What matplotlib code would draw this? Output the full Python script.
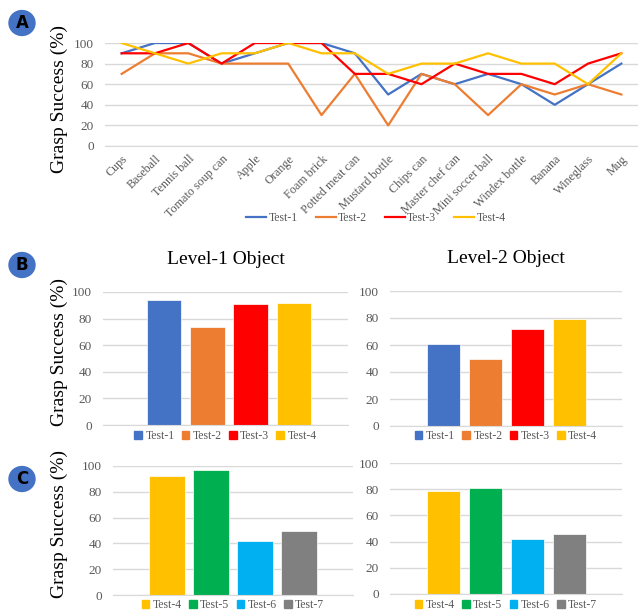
import matplotlib
matplotlib.use("Agg")
import matplotlib.pyplot as plt
from matplotlib.patches import Circle

plt.rcParams['font.family'] = ['Liberation Serif', 'DejaVu Serif']

objects = ['Cups', 'Baseball', 'Tennis ball', 'Tomato soup can', 'Apple', 'Orange',
           'Foam brick', 'Potted meat can', 'Mustard bottle', 'Chips can',
           'Master chef can', 'Mini soccer ball', 'Windex bottle', 'Banana',
           'Wineglass', 'Mug']
test1 = [90, 100, 100, 80, 90, 100, 100, 90, 50, 70, 60, 70, 60, 40, 60, 80]
test2 = [70, 90, 90, 80, 80, 80, 30, 70, 20, 70, 60, 30, 60, 50, 60, 50]
test3 = [90, 90, 100, 80, 100, 100, 100, 70, 70, 60, 80, 70, 70, 60, 80, 90]
test4 = [100, 90, 80, 90, 90, 100, 90, 90, 70, 80, 80, 90, 80, 80, 60, 90]

tests_b = ['Test-1', 'Test-2', 'Test-3', 'Test-4']
level1_b = [94, 74, 91, 92]
level2_b = [61, 50, 72, 79]

tests_c = ['Test-4', 'Test-5', 'Test-6', 'Test-7']
level1_c = [92, 97, 42, 50]
level2_c = [79, 81, 42, 46]

colors = {'Test-1': '#4472C4', 'Test-2': '#ED7D31', 'Test-3': '#FF0000',
          'Test-4': '#FFC000', 'Test-5': '#00B050', 'Test-6': '#00B0F0',
          'Test-7': '#808080'}

W, H = 638, 611
fig = plt.figure(figsize=(W / 100, H / 100), dpi=100)
GRID = '#D9D9D9'
TXT = '#595959'


def box(x0, y_top, x1, y_bot):
    return [x0 / W, 1 - y_bot / H, (x1 - x0) / W, (y_bot - y_top) / H]


def style(ax):
    for s in ['top', 'right', 'left']:
        ax.spines[s].set_visible(False)
    ax.spines['bottom'].set_color(GRID)
    ax.set_ylim(0, 100)
    ax.set_yticks(range(0, 101, 20))
    ax.yaxis.grid(True, color=GRID, lw=1)
    ax.set_axisbelow(True)
    ax.tick_params(axis='y', length=0, pad=8, labelsize=9.5, labelcolor=TXT)
    ax.tick_params(axis='x', length=0)


# panel A
axA = fig.add_axes(box(105, 43, 638, 146))
style(axA)
for name, vals in zip(tests_b, [test1, test2, test3, test4]):
    axA.plot(range(len(objects)), vals, color=colors[name], lw=1.6, label=name)
axA.set_xlim(-0.5, len(objects) - 0.5)
axA.set_xticks(range(len(objects)))
axA.set_xticklabels(objects, rotation=45, ha='right', va='top',
                    rotation_mode='anchor', fontsize=8.7, color=TXT)
axA.tick_params(axis='x', pad=5)
fig.legend(*axA.get_legend_handles_labels(), loc='center', ncol=4,
           bbox_to_anchor=(376 / W, 1 - 218 / H), frameon=False,
           fontsize=8.5, labelcolor=TXT, handlelength=1.7, columnspacing=1.5,
           handletextpad=0.2, borderpad=0)
fig.text(59 / W, 1 - 99 / H, 'Grasp Success (%)', rotation=90,
         ha='center', va='center', fontsize=14)


def bar_panel(x0, y_top, x1, y_bot, names, vals, first, title=None,
              leg_y=None):
    ax = fig.add_axes(box(x0, y_top, x1, y_bot))
    style(ax)
    pos = list(range(len(names)))
    ax.bar(pos, vals, width=0.8, color=[colors[n] for n in names],
           edgecolor='white', lw=0.5)
    ax.set_xticks([])
    unit = first[1]
    ax.set_xlim((x0 - first[0]) / unit, (x1 - first[0]) / unit)
    if title:
        ax.set_title(title, fontsize=14, pad=20)
    handles = [plt.Rectangle((0, 0), 1, 1, color=colors[n]) for n in names]
    fig.legend(handles, names, loc='center', ncol=4,
               bbox_to_anchor=((x0 + x1) / 2 / W, 1 - leg_y / H),
               frameon=False, fontsize=8.5, labelcolor=TXT,
               handlelength=0.65, handleheight=0.65, columnspacing=0.6,
               handletextpad=0.3, borderpad=0)
    return ax


bar_panel(103, 292, 348, 425, tests_b, level1_b, (164, 43.3),
          'Level-1 Object', leg_y=436)
bar_panel(390, 291, 622, 426, tests_b, level2_b, (443.3, 42),
          'Level-2 Object', leg_y=436)
bar_panel(113, 466, 353, 595, tests_c, level1_c, (167, 44), leg_y=605)
bar_panel(390, 463, 622, 594, tests_c, level2_c, (443.3, 42), leg_y=605)

fig.text(59 / W, 1 - 352 / H, 'Grasp Success (%)', rotation=90,
         ha='center', va='center', fontsize=14)
fig.text(59 / W, 1 - 524 / H, 'Grasp Success (%)', rotation=90,
         ha='center', va='center', fontsize=14)

# panel letters
for letter, (cx, cy) in zip('ABC', [(22, 23), (22, 265), (22, 479)]):
    fig.patches.append(Circle((cx / W, 1 - cy / H), 13 / W,
                              transform=fig.transFigure, color='#4472C4'))
    fig.text(cx / W, 1 - cy / H, letter, ha='center', va='center',
             fontsize=12, fontweight='bold', family='DejaVu Sans')

fig.savefig('out.png', dpi=100)
